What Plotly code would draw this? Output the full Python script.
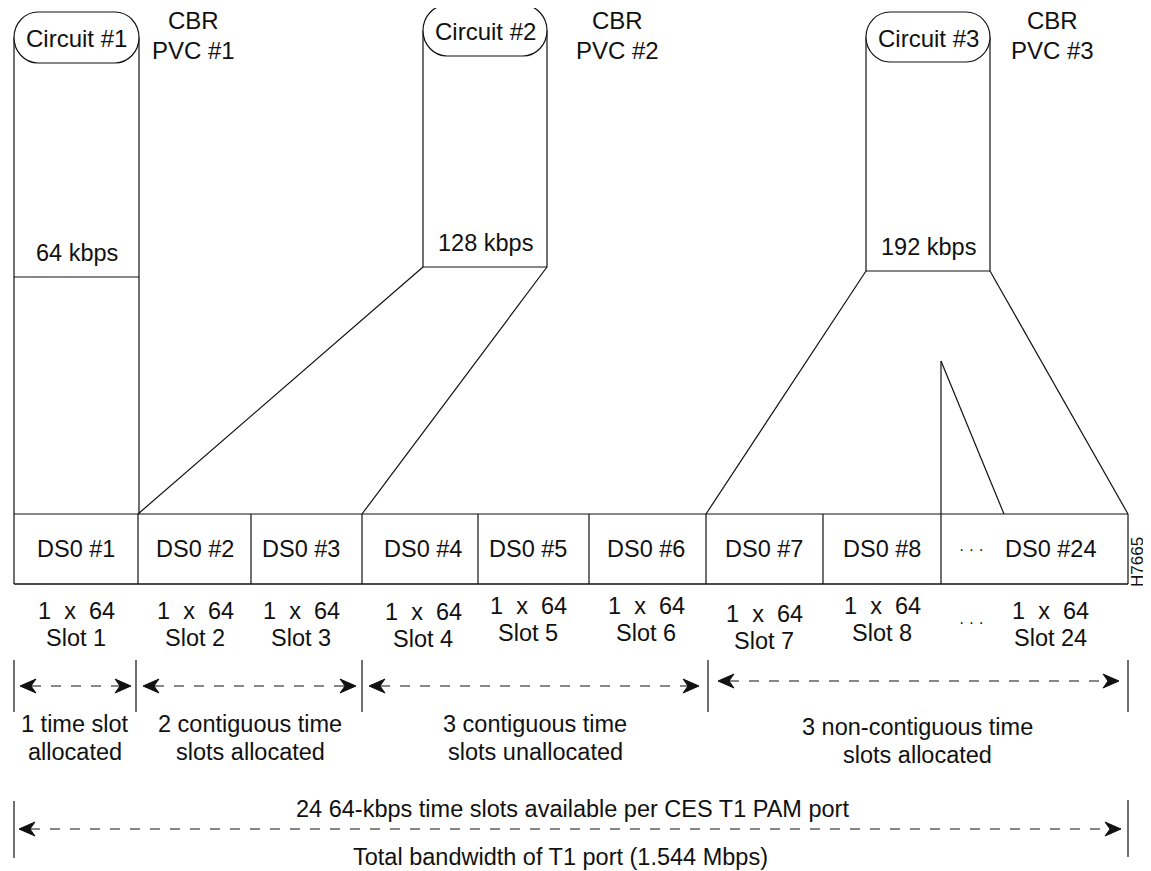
import plotly.graph_objects as go

# ---------------- data ----------------
slot_labels = ["DS0 #1", "DS0 #2", "DS0 #3", "DS0 #4", "DS0 #5", "DS0 #6",
               "DS0 #7", "DS0 #8", "\u00b7 \u00b7 \u00b7", "DS0 #24"]
slot_edges = [14, 138, 251, 362, 478, 589, 706, 823, 941, 1128]
slot_centers = [76, 195, 301, 423, 528, 646, 764, 882, 971, 1050]
rate_labels = ["1\u00a0 x\u00a0 64"] * 8 + ["", "1\u00a0 x\u00a0 64"]
slot_names = ["Slot 1", "Slot 2", "Slot 3", "Slot 4", "Slot 5", "Slot 6",
              "Slot 7", "Slot 8", "\u00b7 \u00b7 \u00b7", "Slot 24"]
slot_text_y = [611, 611, 611, 612, 606, 606, 614, 606, 622, 611]

circuits = ["Circuit #1", "Circuit #2", "Circuit #3"]
circuit_rates = ["64 kbps", "128 kbps", "192 kbps"]
pvc_labels = ["PVC #1", "PVC #2", "PVC #3"]
circuit_x0 = [14, 423, 866]
circuit_x1 = [139, 547, 990]
pill_top = [12, 5, 12]
pill_bot = [63, 56, 62]
cyl_bottom = [277, 267, 271]
pvc_x = [193, 617, 1052]

group_labels = [("1 time slot", "allocated"),
                ("2 contiguous time", "slots allocated"),
                ("3 contiguous time", "slots unallocated"),
                ("3 non-contiguous time", "slots allocated")]
group_centers = [75, 250, 535, 917]
group_ticks = [14, 136, 362, 708, 1128]
group_arrows = [(20, 131, 686), (143, 356, 686), (369, 699, 686), (718, 1119, 681)]

total_text_top = "24 64-kbps time slots available per CES T1 PAM port"
total_text_bot = "Total bandwidth of T1 port (1.544 Mbps)"
figure_id = "H7665"

# ---------------- figure ----------------
W, H = 1151, 871
OFF = 8  # default page body margin
FONT = "Liberation Sans, Arial, Helvetica, sans-serif"
BLACK = "#111111"
FS = 23.5
fig = go.Figure()
shapes = []
ann = []


def line(x0, y0, x1, y1, width=1.2, dash=None, color=BLACK):
    d = dict(type="line", x0=x0, y0=y0, x1=x1, y1=y1, xref="x", yref="y",
             line=dict(color=color, width=width))
    if dash:
        d["line"]["dash"] = dash
    shapes.append(d)


def text(x, y, s, size=FS, xanchor="center", angle=0):
    ann.append(dict(x=x, y=y, xref="x", yref="y", text=s, showarrow=False,
                    xanchor=xanchor, yanchor="middle", textangle=angle,
                    font=dict(family=FONT, size=size, color=BLACK)))


def arrowhead(xtip, y, direction):
    L, h, n = 16, 7, 5
    xb = xtip + direction * L
    xn = xtip + direction * (L - n)
    path = f"M {xtip},{y} L {xb},{y - h} L {xn},{y} L {xb},{y + h} Z"
    shapes.append(dict(type="path", path=path, xref="x", yref="y",
                       fillcolor=BLACK, line=dict(color=BLACK, width=1)))


def dashed_arrow(xa, xb, y):
    line(xa + 11, y, xb - 11, y, width=1.1, dash="10px,10px")
    arrowhead(xa, y, 1)
    arrowhead(xb, y, -1)


def pill(x0, x1, y0, y1):
    rx = 24
    ry = (y1 - y0) / 2.0
    k = 0.5523
    p = (f"M {x0 + rx},{y0} L {x1 - rx},{y0} "
         f"C {x1 - rx + k * rx},{y0} {x1},{y0 + ry - k * ry} {x1},{y0 + ry} "
         f"C {x1},{y0 + ry + k * ry} {x1 - rx + k * rx},{y1} {x1 - rx},{y1} "
         f"L {x0 + rx},{y1} "
         f"C {x0 + rx - k * rx},{y1} {x0},{y0 + ry + k * ry} {x0},{y0 + ry} "
         f"C {x0},{y0 + ry - k * ry} {x0 + rx - k * rx},{y0} {x0 + rx},{y0} Z")
    shapes.append(dict(type="path", path=p, xref="x", yref="y",
                       fillcolor="white", line=dict(color=BLACK, width=1.2)))


# DS0 row
row_top, row_bot = 514, 584
line(slot_edges[0], row_top, slot_edges[-1], row_top)
line(slot_edges[0], row_bot, slot_edges[-1], row_bot, width=1.6)
for xe in slot_edges:
    line(xe, row_top, xe, row_bot)
for xc, lab in zip(slot_centers, slot_labels):
    text(xc, 549, lab, size=FS if lab.startswith("DS0") else 16)

# slot sub labels
for xc, r, s, yy in zip(slot_centers, rate_labels, slot_names, slot_text_y):
    if r:
        text(xc, yy, r)
        text(xc, yy + 27, s)
    else:
        text(xc, yy, s, size=16)

# circuits (cylinders)
bottom_targets = [None, (slot_edges[1], slot_edges[3]), (slot_edges[6], slot_edges[9])]
for i in range(3):
    x0, x1 = circuit_x0[i], circuit_x1[i]
    ymid = (pill_top[i] + pill_bot[i]) / 2
    yb = cyl_bottom[i]
    if i == 0:
        line(x0, ymid, x0, row_top)
        line(x1, ymid, x1, row_top)
    else:
        line(x0, ymid, x0, yb)
        line(x1, ymid, x1, yb)
    line(x0, yb, x1, yb)
    pill(x0, x1, pill_top[i], pill_bot[i])
    text((x0 + x1) / 2, ymid + 1, circuits[i], size=24)
    text((x0 + x1) / 2, yb - 24, circuit_rates[i])
    text(pvc_x[i], 20, "CBR", size=24)
    text(pvc_x[i], 50, pvc_labels[i], size=24)
    if bottom_targets[i]:
        tl, tr = bottom_targets[i]
        line(x0, yb, tl, row_top)
        line(x1, yb, tr, row_top)

# non-contiguous fan triangle
line(slot_edges[8], 361, slot_edges[8], row_top)
line(slot_edges[8], 361, 1004, row_top)

# figure id
text(1137, 562, figure_id, size=17, angle=-90)

# group brackets
for xt in group_ticks:
    line(xt, 660, xt, 712)
for (xa, xb, yy) in group_arrows:
    dashed_arrow(xa, xb, yy)
for xc, (l1, l2), yy in zip(group_centers, group_labels, [724, 724, 724, 727]):
    text(xc, yy, l1)
    text(xc, yy + 28, l2)

# total bandwidth
line(group_ticks[0], 801, group_ticks[0], 858)
line(group_ticks[-1], 800, group_ticks[-1], 857)
dashed_arrow(19, 1121, 829)
text(572, 809, total_text_top)
text(560, 857, total_text_bot)

fig.update_layout(
    width=W - OFF, height=H - OFF,
    margin=dict(l=0, r=0, t=0, b=0),
    paper_bgcolor="white", plot_bgcolor="white",
    xaxis=dict(range=[OFF, W], visible=False, fixedrange=True),
    yaxis=dict(range=[H, OFF], visible=False, fixedrange=True),
    shapes=shapes, annotations=ann, showlegend=False,
)
fig.write_html("out.html", config=dict(displayModeBar=False))
